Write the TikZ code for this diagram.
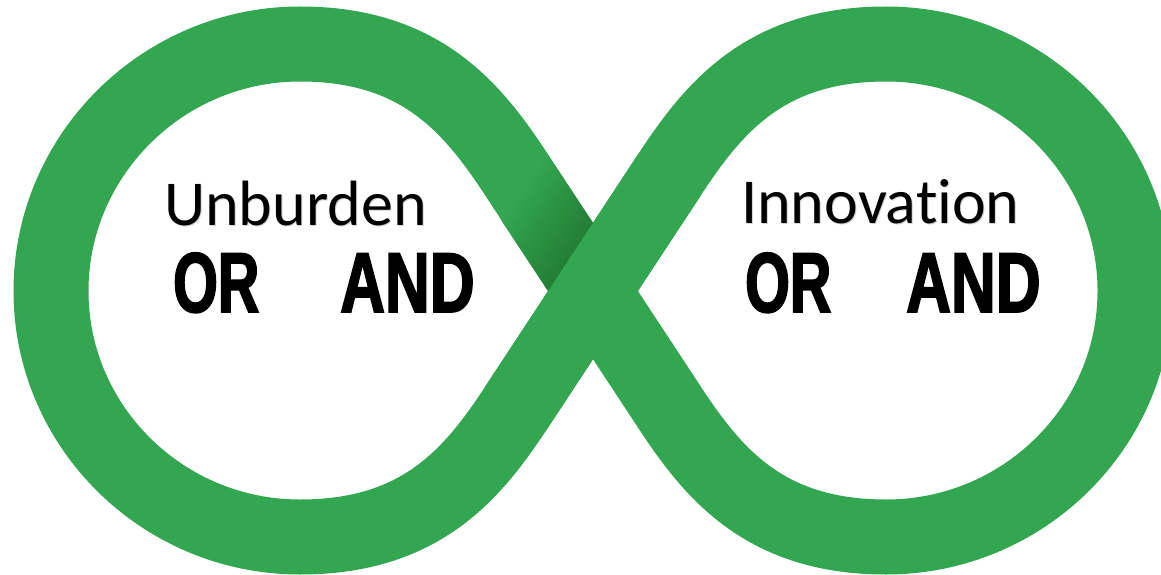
\documentclass[tikz,border=0pt]{standalone}
\usepackage{fontspec}
\setmainfont{Carlito}[Ligatures=NoCommon]
\newfontfamily\condboldO[FakeStretch=0.675, FakeBold=2]{Liberation Sans Bold}
\newfontfamily\condboldA[FakeStretch=0.73, FakeBold=2]{Liberation Sans Bold}
\definecolor{loopgreen}{RGB}{50,166,81}
\definecolor{loopdark}{RGB}{34,122,50}
\tikzset{
  band/.style={draw=loopgreen, line width=75pt},
  word/.style={inner sep=0pt, font=\fontsize{64}{64}\selectfont},
  wordshadow/.style={word, text=black!18},
  logicor/.style={inner sep=0pt, font=\condboldO\fontsize{85}{85}\selectfont},
  logicand/.style={inner sep=0pt, font=\condboldA\fontsize{85}{85}\selectfont}
}
\begin{document}
\begin{tikzpicture}[x=1pt,y=1pt]
\useasboundingbox (0,0) rectangle (1161,574);
\coordinate (C) at (593,283);
\coordinate (P1) at (516,400);
\coordinate (P2) at (516,166);
\coordinate (P3) at (670,400);
\coordinate (P4) at (670,166);
% whole figure eight
\draw[band] (C) -- (P1) .. controls (472,467) and (420,530) .. (300,530)
  .. controls (163,530) and (51,419) .. (51,283)
  .. controls (51,147) and (163,37) .. (300,37)
  .. controls (420,37) and (472,99) .. (P2) -- (C) -- (P3)
  .. controls (714,467) and (766,530) .. (886,530)
  .. controls (1023,530) and (1135,419) .. (1135,283)
  .. controls (1135,147) and (1023,37) .. (886,37)
  .. controls (766,37) and (714,99) .. (P4) -- cycle;
% shadow on the under-passing arm
\begin{scope}
  \clip (624.3,303.7) -- (541.5,428.8) -- (478.9,387.4) -- (561.7,262.3) -- cycle;
  \begin{scope}[transform canvas={shift={(C)}, rotate=146.5}]
    \shade[left color=loopdark, right color=loopgreen] (30,-200) rectangle (115,200);
  \end{scope}
\end{scope}
% over-passing band
\draw[band] (P2) -- (P3);
% texts
\node[wordshadow, anchor=base west] (unbs) at (165,348) {Unburden};
\node[word, anchor=base west] (unb) at (164,349) {Unburden};
\node[logicor, anchor=base west] (or1) at (173,262) {OR};
\node[logicand, anchor=base west] (and1) at (340,262) {AND};
\node[wordshadow, anchor=base west] (innos) at (742,350) {Innovation};
\node[word, anchor=base west] (inno) at (741,351) {Innovation};
\node[logicor, anchor=base west] (or2) at (745,262) {OR};
\node[logicand, anchor=base west] (and2) at (906,262) {AND};
\end{tikzpicture}
\end{document}
